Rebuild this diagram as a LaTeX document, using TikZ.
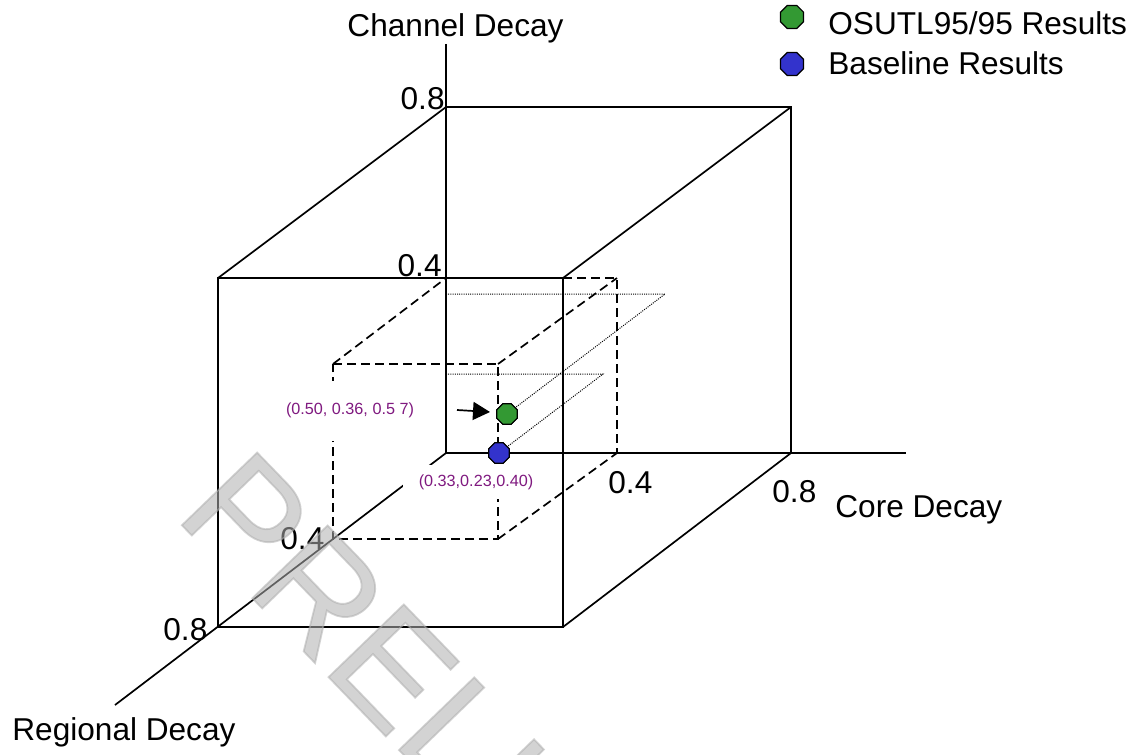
\documentclass[tikz,border=0pt]{standalone}
\usepackage{fontspec}
\setmainfont{Liberation Sans}
\newfontfamily\wmfont[FakeBold=1.2]{Liberation Sans}
\usetikzlibrary{shapes.geometric,arrows.meta}
\definecolor{ptgreen}{RGB}{51,153,51}
\definecolor{ptblue}{RGB}{51,51,204}
\definecolor{lblpurple}{RGB}{128,26,128}
\definecolor{wmgray}{RGB}{175,175,175}
\begin{document}
\begin{tikzpicture}[x=0.5pt,y=-0.5pt,
  edge/.style={line width=0.85pt},
  hidden/.style={line width=0.85pt, dash pattern=on 4.5pt off 2.5pt},
  guide/.style={line width=0.5pt, dash pattern=on 0.5pt off 0.6pt},
  lbl/.style={font=\fontsize{15.8}{19}\selectfont, inner sep=0pt},
  coordlbl/.style={font=\fontsize{8.1}{9.7}\selectfont, text=lblpurple, fill=white, inner sep=0pt},
  octa/.style={regular polygon, regular polygon sides=8, draw=black, line width=0.6pt, inner sep=0pt, minimum size=11pt},
]
\useasboundingbox (0,0) rectangle (1139,754);
% axes and cube corners
\coordinate (O) at (446,453);
\coordinate (chtop) at (446,44);
\coordinate (coreend) at (906,453);
\coordinate (regend) at (115,705);
\coordinate (B1) at (446,107);
\coordinate (B2) at (791,107);
\coordinate (B3) at (791,453);
\coordinate (F1) at (218,278);
\coordinate (F2) at (563,278);
\coordinate (F3) at (563,627);
\coordinate (F4) at (218,627);
\coordinate (s1) at (446,278);
\coordinate (s2) at (617,278);
\coordinate (s3) at (617,453);
\coordinate (t1) at (333,364);
\coordinate (t2) at (498,364);
\coordinate (t3) at (498,539);
\coordinate (t4) at (333,539);
\coordinate (g1) at (446,294);
\coordinate (g2) at (665,294);
\coordinate (h1) at (446,374);
\coordinate (h2) at (603,374);
\coordinate (arrS) at (457,410);
\coordinate (arrE) at (490,412);

% axes
\draw[edge] (chtop) -- (O) -- (coreend);
\draw[edge] (O) -- (regend);
% big cube
\draw[edge] (B1) -- (B2) -- (B3);
\draw[edge] (F1) -- (F2) -- (F3) -- (F4) -- cycle;
\draw[edge] (F1) -- (B1);
\draw[edge] (F2) -- (B2);
\draw[edge] (F3) -- (B3);
% small cube
\draw[hidden] (F2) -- (s2) -- (s3);
\draw[hidden] (t1) -- (t2) -- (t3) -- (t4) -- cycle;
\draw[hidden] (t1) -- (s1);
\draw[hidden] (t2) -- (s2);
\draw[hidden] (t3) -- (s3);

% data points
\node[octa, fill=ptgreen] (green) at (507,414) {};
\node[octa, fill=ptblue] (blue) at (499,453) {};
% guide lines
\draw[guide] (g1) -- (g2) -- (green);
\draw[guide] (h1) -- (h2) -- (blue);
\node[octa, fill=ptgreen] at (green) {};
\node[octa, fill=ptblue] at (blue) {};

% coordinate labels
\node[coordlbl, inner xsep=4pt, minimum height=30pt] (lab1) at (350,410.5) {(0.50, 0.36, 0.5 7)};
\node[coordlbl, inner xsep=8pt, minimum height=17pt] (lab2) at (476,482) {(0.33,0.23,0.40)};
\draw[edge, -{Triangle[length=8.5pt,width=9pt]}] (arrS) -- (arrE);

% axis labels
\node[lbl, anchor=base] (chlab) at (455.5,37) {Channel Decay};
\node[lbl, anchor=base east] (c08) at (445,110) {0.8};
\node[lbl, anchor=base east] (c04) at (442,276) {0.4};
\node[lbl, anchor=base west] (r04) at (280,549) {0.4};
\node[lbl, anchor=base west] (r08) at (163,640) {0.8};
\node[lbl, anchor=base west] (k04) at (608,493) {0.4};
\node[lbl, anchor=base west] (k08) at (772,502) {0.8};
\node[lbl, anchor=base west] (corelab) at (835,517) {Core Decay};
\node[lbl, anchor=base west] (reglab) at (12,740) {Regional Decay};

% legend
\node[octa, fill=ptgreen, minimum size=12.5pt] (lg1) at (792,17) {};
\node[octa, fill=ptblue, minimum size=12.5pt] (lg2) at (792,64) {};
\node[lbl, anchor=base west] (lgt1) at (828,35) {OSUTL95/95 Results};
\node[lbl, anchor=base west] (lgt2) at (828,75) {Baseline Results};

% watermark
\node[anchor=base west, rotate=-46, inner sep=0pt, text=wmgray, text opacity=0.55,
      font=\wmfont\fontsize{76}{90}\selectfont] (wm) at (173,516) {PRELI};
\end{tikzpicture}
\end{document}
